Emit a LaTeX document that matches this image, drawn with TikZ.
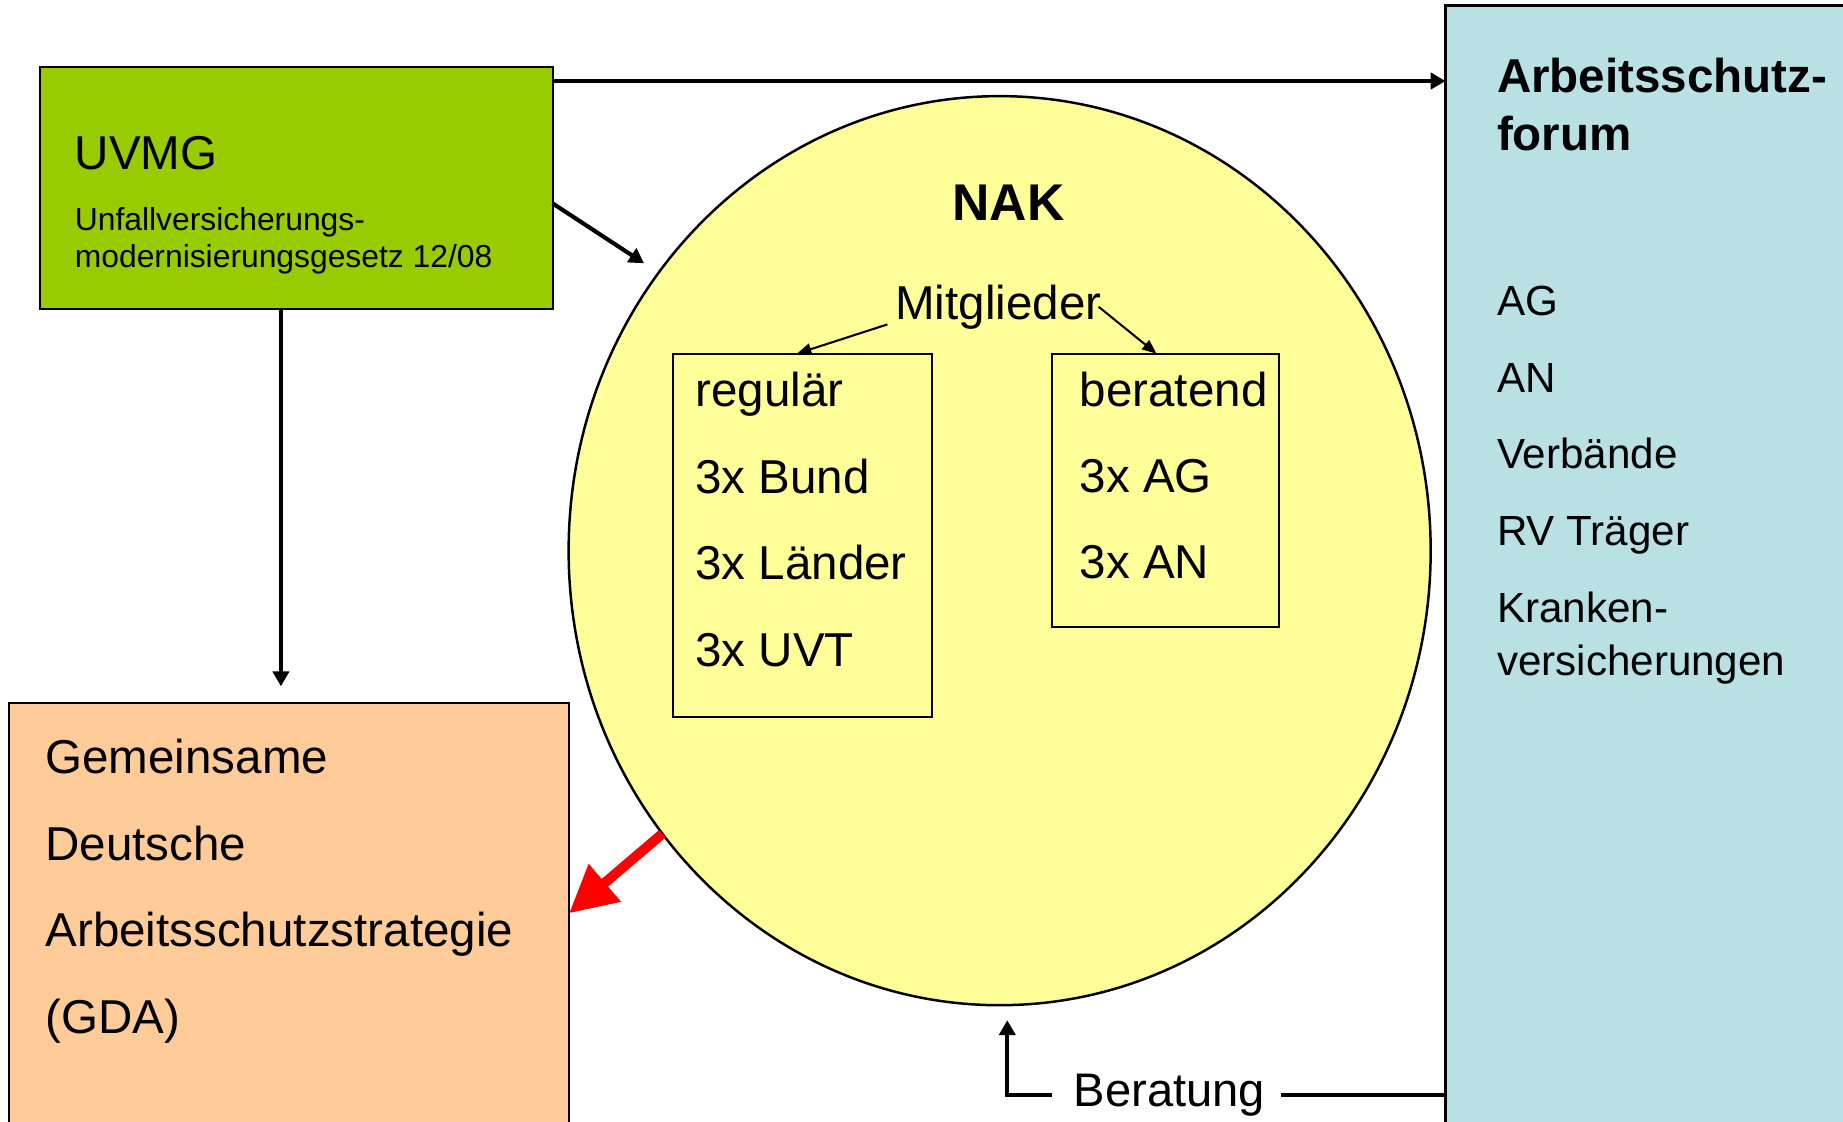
\documentclass[tikz,border=0pt]{standalone}
\usepackage{fontspec}
\setmainfont{Liberation Sans}
\usetikzlibrary{shapes.geometric,arrows.meta}
\definecolor{uvmggreen}{HTML}{99CC00}
\definecolor{gdaorange}{HTML}{FFCC99}
\definecolor{nakyellow}{HTML}{FFFF99}
\definecolor{forumblue}{HTML}{B9E0E2}
\begin{document}
\begin{tikzpicture}[x=0.01cm,y=-0.01cm,
  box/.style={draw,line width=0.5pt,inner sep=0pt,outer sep=0pt},
  txt/.style={anchor=base west,inner sep=0pt,font=\fontsize{11.5}{14}\selectfont},
  smalltxt/.style={txt,font=\fontsize{7.7}{9}\selectfont},
  listtxt/.style={txt,font=\fontsize{10.2}{12}\selectfont},
  arr/.style={line width=1pt,-{Triangle[length=3.6pt,width=3.9pt]}},
  thinarr/.style={line width=0.5pt,-{Triangle[length=3.5pt,width=2.8pt]}}]
\useasboundingbox (0,0) rectangle (1568,954);
\node[box,fill=forumblue,line width=0.7pt,minimum width=3.5cm,minimum height=9.7cm] (forum) at (1405,490) {};
\node[box,fill=gdaorange,minimum width=4.76cm,minimum height=3.8cm] (gda) at (246,788) {};
\node[box,fill=uvmggreen,minimum width=4.36cm,minimum height=2.06cm] (uvmg) at (252,160) {};
\node[box,ellipse,fill=nakyellow,line width=0.6pt,minimum width=7.33cm,minimum height=7.73cm] (nak) at (850.5,468.5) {};
\node[box,minimum width=2.2cm,minimum height=3.09cm] (reg) at (683,455.5) {};
\node[box,minimum width=1.93cm,minimum height=2.32cm] (ber) at (991.5,417) {};

\node[txt] (uvmgtitle) at (63,144) {UVMG};
\node[smalltxt] (uvmgsub1) at (63,196) {Unfallversicherungs-};
\node[smalltxt] (uvmgsub2) at (63,228) {modernisierungsgesetz 12/08};
\node[txt,anchor=base,font=\fontsize{12.5}{15}\selectfont\bfseries] (naktitle) at (858,188) {NAK};
\node[txt] (mitglieder) at (761,272) {Mitglieder};
\foreach \t [count=\i from 0] in {regulär,3x Bund,3x Länder,3x UVT}
  \node[txt] (reg\i) at (591,{346+73.6*\i}) {\t};
\foreach \t [count=\i from 0] in {beratend,3x AG,3x AN}
  \node[txt] (ber\i) at (918,{345.5+73.3*\i}) {\t};
\foreach \t [count=\i from 0] in {Gemeinsame,Deutsche,Arbeitsschutzstrategie,(GDA)}
  \node[txt] (gda\i) at (38,{658+73.7*\i}) {\t};
\node[txt,font=\fontsize{11.5}{14}\selectfont\bfseries] (forum1) at (1273,79) {Arbeitsschutz-};
\node[txt,font=\fontsize{11.5}{14}\selectfont\bfseries] (forum2) at (1273,128) {forum};
\foreach \t/\y in {AG/268,AN/334,Verbände/399,RV Träger/464.5,Kranken-/530,versicherungen/574.5}
  \node[listtxt] (forum\t) at (1273,\y) {\t};
\node[txt,font=\fontsize{11.4}{14}\selectfont] (beratung) at (913,941) {Beratung};

\coordinate (topstart) at ([yshift=-0.12cm]uvmg.north east);
\draw[arr] (topstart) -- (topstart -| forum.west);
\coordinate (nakin) at (548,224);
\draw[arr] ([yshift=-0.13cm]uvmg.east) -- (nakin);
\coordinate (downstart) at ([xshift=-0.13cm]uvmg.south);
\draw[arr,shorten >=0.14cm] (downstart) -- (downstart |- gda.north);
\draw[thinarr] ([xshift=-0.06cm,yshift=-0.04cm]mitglieder.base west) -- ([xshift=-0.05cm]reg.north);
\draw[thinarr] ([xshift=-0.03cm,yshift=0.11cm]mitglieder.base east) -- ([xshift=-0.075cm]ber.north);
\draw[red,line width=2.4pt,-{Triangle[length=0.4cm,width=0.4cm]}] (nak.220) -- ([yshift=0.11cm]gda.east);
\draw[line width=1pt,shorten <=0.13cm] (beratung.east) -- (beratung.east -| forum.west);
\coordinate (berup) at (857,868);
\draw[arr] ([xshift=-0.18cm]beratung.west) -| (berup);
\end{tikzpicture}
\end{document}
